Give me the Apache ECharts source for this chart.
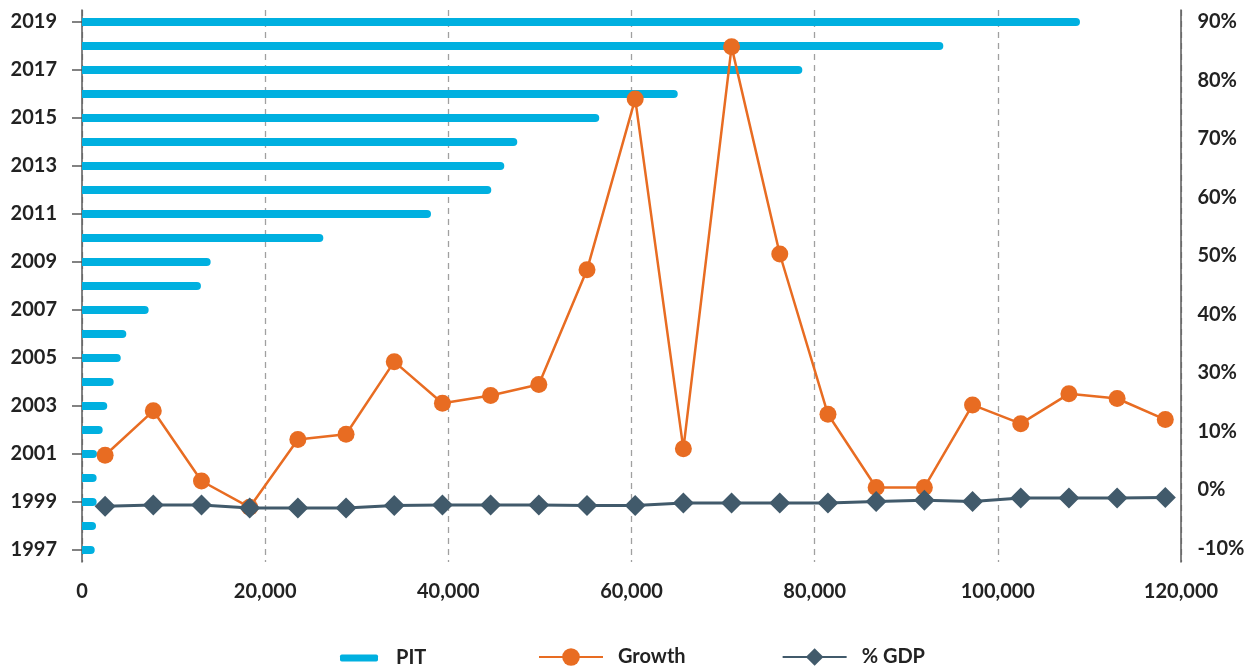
<!DOCTYPE html>
<html>
<head>
<meta charset="utf-8">
<script src="https://cdn.jsdelivr.net/npm/echarts@6/dist/echarts.min.js"></script>
<style>
  html, body { margin: 0; padding: 0; background: #fff; }
  #chart { width: 1252px; height: 668px; }
</style>
</head>
<body>
<div id="chart"></div>
<script>
var years = ['1997','1998','1999','2000','2001','2002','2003','2004','2005','2006','2007','2008',
             '2009','2010','2011','2012','2013','2014','2015','2016','2017','2018','2019'];

// PIT revenue (bars, bottom axis)
var pit = [1390, 1530, 1600, 1600, 1640, 2260, 2760, 3460, 4230, 4840, 7280, 12990,
           14050, 26350, 38110, 44690, 46110, 47530, 56480, 65050, 78650, 94050, 108970];

// lines on the right axis, in axis units (one step per printed tick)
var growth = [15.9, 23.5, 11.5, 7.0, 18.6, 19.5, 31.9, 24.8, 26.1, 28.0, 47.6, 76.8,
              17.0, 85.7, 50.3, 22.9, 10.4, 10.4, 24.5, 21.3, 26.4, 25.6, 22.0];
var gdp = [7.2, 7.4, 7.4, 6.9, 6.9, 6.9, 7.3, 7.4, 7.4, 7.4, 7.3, 7.3,
           7.75, 7.75, 7.75, 7.75, 8.0, 8.2, 8.0, 8.6, 8.6, 8.6, 8.7];

// right axis labels as printed, bottom to top
var pctLabels = ['-10%', '0%', '10%', '30%', '40%', '50%', '60%', '70%', '80%', '90%'];

var font = 'Lato';
var txt = '#222';
var axisCol = '#595959';

var chart = echarts.init(document.getElementById('chart'));

var option = {
    animation: false,
    grid: [
        { left: 82, right: 71, top: 10, bottom: 106 },
        { left: 81, right: 62.6, top: 21.7, bottom: 119.7 }
    ],
    legend: [
        {
            data: ['PIT'],
            left: 340, top: 648, padding: 0,
            icon: 'roundRect',
            itemWidth: 38, itemHeight: 7,
            textStyle: { fontFamily: font, fontWeight: 'bold', fontSize: 20, color: txt, padding: [0, 0, 0, 13] }
        },
        {
            data: ['Growth', '% GDP'],
            left: 538, top: 647, padding: 0,
            itemWidth: 64, itemHeight: 22, itemGap: 96,
            textStyle: { fontFamily: font, fontWeight: 'bold', fontSize: 20, color: txt, padding: [0, 0, 0, 10] }
        }
    ],
    xAxis: [
        {
            gridIndex: 0, type: 'value', min: 0, max: 120000, interval: 20000,
            axisLine: { show: false }, axisTick: { show: false },
            axisLabel: {
                margin: 20, fontFamily: font, fontWeight: 'bold', fontSize: 20, color: txt,
                formatter: function (v) { return v.toLocaleString('en-US'); }
            },
            splitLine: { show: true, lineStyle: { color: '#a0a0a0', width: 1.3, type: [6, 5] } }
        },
        { gridIndex: 1, type: 'category', data: years, show: false }
    ],
    yAxis: [
        {
            gridIndex: 0, type: 'category', data: years,
            axisLine: { show: true, lineStyle: { color: axisCol, width: 1.5 } },
            axisTick: { show: true, alignWithLabel: true, interval: 1, length: 10, lineStyle: { color: axisCol, width: 1.5 } },
            axisLabel: { interval: 1, margin: 25, fontFamily: font, fontWeight: 'bold', fontSize: 20, color: txt }
        },
        {
            gridIndex: 0, type: 'value', position: 'right',
            axisLine: { show: true, lineStyle: { color: axisCol, width: 1.5 } },
            axisTick: { show: false }, axisLabel: { show: false }, splitLine: { show: false }
        },
        {
            gridIndex: 1, type: 'value', position: 'right', min: 0, max: 90, interval: 10,
            axisLine: { show: false }, axisTick: { show: false }, splitLine: { show: false },
            axisLabel: {
                margin: 8, fontFamily: font, fontWeight: 'bold', fontSize: 20, color: txt,
                formatter: function (v) { return pctLabels[Math.round(v / 10)]; }
            }
        }
    ],
    series: [
        {
            name: 'PIT', type: 'bar', xAxisIndex: 0, yAxisIndex: 0,
            data: pit, barWidth: 8,
            itemStyle: { color: '#00b0e0', borderRadius: [0, 4, 4, 0] }
        },
        {
            name: 'Growth', type: 'line', xAxisIndex: 1, yAxisIndex: 2,
            data: growth, symbol: 'circle', symbolSize: 17,
            lineStyle: { color: '#e86c22', width: 2.5 },
            itemStyle: { color: '#e86c22' }
        },
        {
            name: '% GDP', type: 'line', xAxisIndex: 1, yAxisIndex: 2,
            data: gdp, symbol: 'diamond', symbolSize: 21,
            lineStyle: { color: '#415a6b', width: 3 },
            itemStyle: { color: '#415a6b' }
        }
    ]
};

chart.setOption(option);
</script>
</body>
</html>
